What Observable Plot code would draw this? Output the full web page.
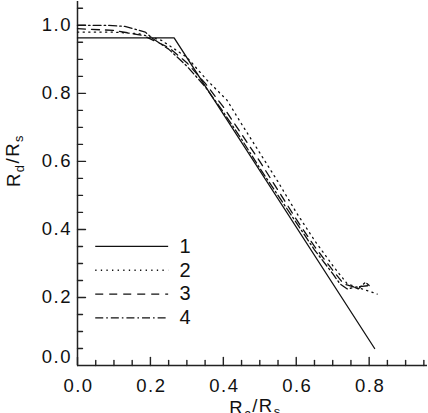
<!DOCTYPE html>
<html><head><meta charset="utf-8">
<script src="https://cdn.jsdelivr.net/npm/d3@7"></script>
<script src="https://cdn.jsdelivr.net/npm/@observablehq/plot@0.6"></script>
<style>body{margin:0;background:#fff} svg text{letter-spacing:1.5px}</style>
</head><body><div id="chart"></div>
<script>
// Data
const seriesNames = ["1", "2", "3", "4"];
const s1x = [0, 0.265, 0.815];
const s1y = [0.963, 0.963, 0.05];
const s2x = [0, 0.1, 0.17, 0.23, 0.3, 0.356, 0.41, 0.45, 0.5, 0.55, 0.6, 0.65, 0.704, 0.74, 0.795, 0.822];
const s2y = [0.98, 0.98, 0.975, 0.956, 0.906, 0.838, 0.78, 0.71, 0.625, 0.54, 0.45, 0.368, 0.288, 0.24, 0.22, 0.21];
const s3x = [0, 0.1, 0.18, 0.25, 0.3, 0.35, 0.4, 0.45, 0.5, 0.55, 0.6, 0.65, 0.7, 0.73, 0.76, 0.8];
const s3y = [0.99, 0.985, 0.97, 0.935, 0.89, 0.83, 0.76, 0.68, 0.6, 0.515, 0.43, 0.35, 0.28, 0.24, 0.23, 0.235];
const s4x = [0, 0.08, 0.13, 0.186, 0.205, 0.25, 0.3, 0.35, 0.4, 0.45, 0.5, 0.55, 0.6, 0.65, 0.7, 0.72, 0.74, 0.76, 0.77, 0.79, 0.8];
const s4y = [1.0, 1.0, 0.997, 0.98, 0.962, 0.93, 0.88, 0.82, 0.745, 0.665, 0.58, 0.5, 0.42, 0.34, 0.27, 0.24, 0.225, 0.23, 0.225, 0.245, 0.235];

const xTicks = [0, 0.2, 0.4, 0.6, 0.8];
const xMinor = [0.05, 0.1, 0.15, 0.25, 0.3, 0.35, 0.45, 0.5, 0.55, 0.65, 0.7, 0.75, 0.85, 0.9, 0.95];
const yTicks = [0.2, 0.4, 0.6, 0.8, 1.0];
const yMinor = [0.05, 0.1, 0.15, 0.25, 0.3, 0.35, 0.45, 0.5, 0.55, 0.65, 0.7, 0.75, 0.85, 0.9, 0.95, 1.05];
const xLabel = "R_c/R_s";
const yLabel = "R_d/R_s";

const xs = [s1x, s2x, s3x, s4x];
const ys = [s1y, s2y, s3y, s4y];
const dashes = [null, "1.3,4.3", "8,6", "8,3,1.6,3"];
const ink = "#111";
const axisInk = "#222";
const fs = 18.5;

// frame geometry
const W = 428, H = 413, mL = 77, mR = 1, mT = 1, mB = 48;
const xDomain = [0, 0.96], yDomain = [0, 1.07];
const xPerPx = (xDomain[1] - xDomain[0]) / (W - mL - mR);
const yPerPx = (yDomain[1] - yDomain[0]) / (H - mT - mB);

const lineMarks = [];
seriesNames.forEach((name, i) => {
  const data = xs[i].map((x, j) => ({x, y: ys[i][j]}));
  lineMarks.push(Plot.line(data, {x: "x", y: "y", stroke: ink, strokeWidth: 1.3, strokeDasharray: dashes[i]}));
  const ly = 0.35 - 0.07 * i;
  lineMarks.push(Plot.ruleY([ly], {x1: 0.05, x2: 0.25, stroke: ink, strokeWidth: 1.3, strokeDasharray: dashes[i]}));
  lineMarks.push(Plot.text([name], {x: 0.28, y: ly, text: d => d, textAnchor: "start", fontSize: 20, fill: ink}));
});

// inward tick segments (one two-point line per tick)
const xMinorSeg = xMinor.flatMap(v => [{x: v, y: 0, k: v}, {x: v, y: 5 * yPerPx, k: v}]);
const xMajorSeg = xTicks.flatMap(v => [{x: v, y: 0, k: v}, {x: v, y: 8 * yPerPx, k: v}]);
const yMinorSeg = yMinor.flatMap(v => [{x: 0, y: v, k: v}, {x: 5 * xPerPx, y: v, k: v}]);
const yMajorSeg = yTicks.flatMap(v => [{x: 0, y: v, k: v}, {x: 8 * xPerPx, y: v, k: v}]);
const tickOpts = {x: "x", y: "y", z: "k", stroke: axisInk, strokeWidth: 1.4};

const chart = Plot.plot({
  width: W, height: H,
  marginLeft: mL, marginRight: mR, marginTop: mT, marginBottom: mB,
  style: {fontFamily: "'Liberation Sans', Arial, sans-serif", fontSize: fs + "px", color: ink, background: "#fff"},
  x: {domain: xDomain, axis: null},
  y: {domain: yDomain, axis: null},
  marks: [
    Plot.line(xMinorSeg, tickOpts),
    Plot.line(xMajorSeg, tickOpts),
    Plot.line(yMinorSeg, tickOpts),
    Plot.line(yMajorSeg, tickOpts),
    // tick labels
    Plot.axisX(xTicks, {tickSize: 0, tickPadding: 13, tickFormat: d3.format(".1f"), fontSize: fs, dx: 1, label: null}),
    Plot.axisY(yTicks, {tickSize: 0, tickPadding: 5.5, tickFormat: d3.format(".1f"), fontSize: fs, label: null}),
    Plot.axisY([0], {tickSize: 0, tickPadding: 5.5, dy: -8, tickFormat: d3.format(".1f"), fontSize: fs, label: null}),
    // axis lines
    Plot.ruleX([0], {stroke: axisInk, strokeWidth: 1.5}),
    Plot.ruleY([0], {stroke: axisInk, strokeWidth: 1.5}),
    ...lineMarks,
    Plot.text([yLabel], {frameAnchor: "left", dx: -63, dy: -23, rotate: -90, text: d => d, textAnchor: "middle", fontSize: fs, fill: ink}),
    Plot.text([xLabel], {frameAnchor: "bottom", dx: 3, dy: 35, lineAnchor: "top", text: d => d, textAnchor: "middle", fontSize: fs, fill: ink})
  ]
});
document.getElementById("chart").appendChild(chart);

// Render subscripts as tspans
d3.select(chart).selectAll("text").each(function() {
  const t = this.textContent;
  if (!t.includes("_")) return;
  const el = d3.select(this);
  el.text(null);
  const parts = t.split(/_(\w)/);
  parts.forEach((p, k) => {
    if (!p) return;
    if (k % 2 === 1) {
      el.append("tspan").attr("dy", "0.3em").attr("font-size", "70%").text(p);
      el.append("tspan").attr("dy", "-0.3em").text("\u200B");
    } else {
      el.append("tspan").text(p);
    }
  });
});
</script>
</body></html>
